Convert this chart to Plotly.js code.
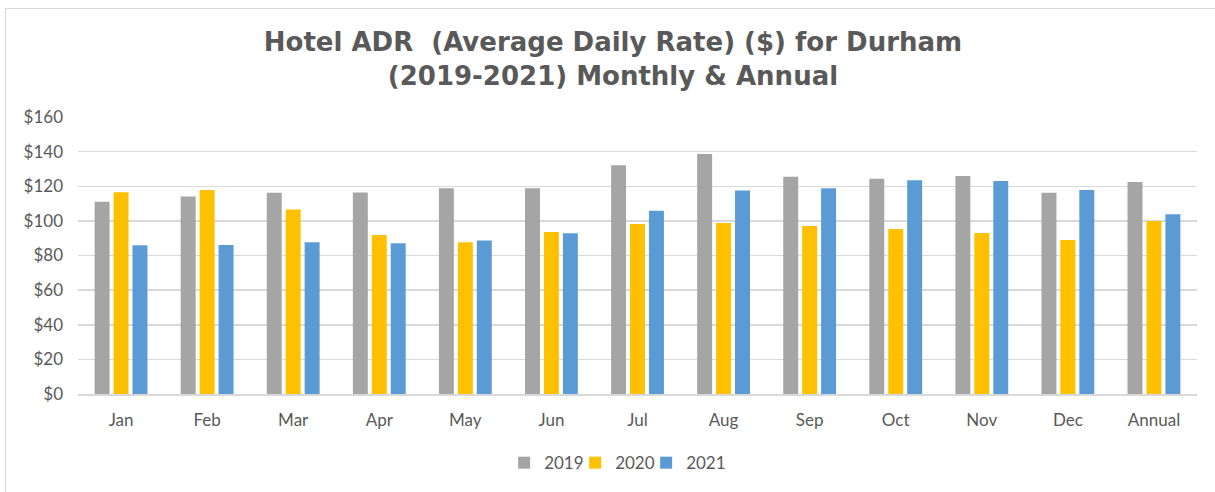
<!DOCTYPE html>
<html>
<head>
<meta charset="utf-8">
<script src="https://cdn.plot.ly/plotly-3.0.1.min.js"></script>
<style>
  html, body { margin: 0; padding: 0; background: #fff; overflow: hidden; }
  #chart { width: 1215px; height: 492px; }
  #frame { position: absolute; left: 5px; top: 8px; width: 1400px; height: 700px;
           border: 1px solid #d6d6d6; pointer-events: none; box-sizing: border-box; }
</style>
</head>
<body>
<div id="chart"></div>
<div id="frame"></div>
<script>
const categories = ["Jan","Feb","Mar","Apr","May","Jun","Jul","Aug","Sep","Oct","Nov","Dec","Annual"];
const adr2019 = [111.1, 114.1, 116.3, 116.4, 118.9, 118.8, 132.2, 138.7, 125.5, 124.3, 125.9, 116.3, 122.4];
const adr2020 = [116.6, 117.8, 106.5, 91.9, 87.7, 93.6, 98.2, 98.8, 97.1, 95.3, 93.0, 89.0, 100.0];
const adr2021 = [85.9, 86.1, 87.7, 87.1, 88.6, 92.9, 105.9, 117.6, 118.9, 123.4, 123.0, 117.8, 103.8];
const seriesNames = ["2019", "2020", "2021"];
const yTickVals = [0, 20, 40, 60, 80, 100, 120, 140, 160];
const yTickText = ["$0","$20","$40","$60","$80","$100","$120","$140","$160"];

const colors = ["#A5A5A5", "#FFC000", "#5B9BD5"];
const values = [adr2019, adr2020, adr2021];

const traces = values.map((v, i) => ({
  type: "bar",
  name: seriesNames[i],
  x: categories,
  y: v,
  marker: { color: colors[i] },
  hoverinfo: "x+y+name"
}));

const tickFont = { family: "Lato, 'Open Sans', sans-serif", size: 17, color: "#595959" };

const layout = {
  width: 1215,
  height: 492,
  paper_bgcolor: "#ffffff",
  plot_bgcolor: "#ffffff",
  margin: { l: 78, r: 18, t: 117, b: 97 },
  barmode: "group",
  bargap: 0.34,
  bargroupgap: 0.21,
  title: {
    text: "Hotel ADR  (Average Daily Rate) ($) for Durham<br>(2019-2021) Monthly &amp; Annual",
    font: { family: "'DejaVu Sans', sans-serif", size: 26, color: "#595959", weight: "bold" },
    x: 0.5045, xref: "container", xanchor: "center",
    y: 0.896, yref: "container", yanchor: "middle"
  },
  xaxis: {
    type: "category",
    tickfont: tickFont,
    showgrid: false,
    showline: true,
    linecolor: "#d9d9d9",
    linewidth: 1.5,
    ticks: "",
    ticklabelstandoff: 10,
    zeroline: false
  },
  yaxis: {
    range: [0, 160],
    tickvals: yTickVals,
    ticktext: yTickText,
    tickfont: tickFont,
    showgrid: true,
    gridcolor: "#d9d9d9",
    gridwidth: 1.5,
    zeroline: false,
    showline: false,
    ticks: "",
    ticklabelstandoff: 14
  },
  legend: {
    orientation: "h",
    x: 0.476, xanchor: "center",
    y: -0.245, yanchor: "middle",
    font: tickFont,
    itemwidth: 30,
    entrywidth: 26,
    entrywidthmode: "pixels",
    traceorder: "normal"
  },
  showlegend: true
};

Plotly.newPlot("chart", traces, layout, { displayModeBar: false, staticPlot: true }).then(gd => {
  gd.querySelectorAll(".legend [clip-path]").forEach(el => el.removeAttribute("clip-path"));
});
</script>
</body>
</html>
